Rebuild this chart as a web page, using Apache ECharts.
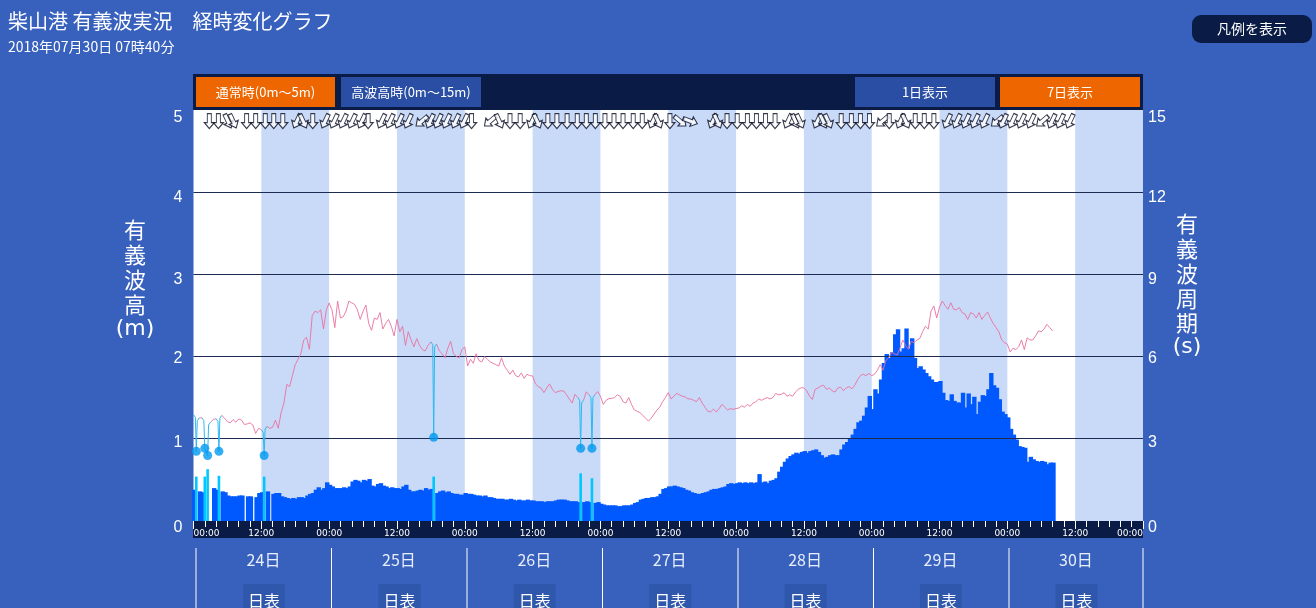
<!DOCTYPE html>
<html><head><meta charset="utf-8">
<style>html,body{margin:0;padding:0;background:#3761bd;overflow:hidden}#c{width:1316px;height:608px}</style>
<script src="https://cdn.jsdelivr.net/npm/echarts@6/dist/echarts.min.js"></script>
</head><body><div id="c"></div>
<script>
const sampleStepHours = 0.5;
const waveHeight = [
0.38,null,0.36,0.35,null,null,null,0.40,0.38,null,0.36,0.35,
0.31,0.30,0.30,0.30,0.31,0.31,null,0.30,0.30,null,0.29,0.34,
0.35,null,0.36,null,0.33,0.34,0.34,0.30,0.29,0.28,0.27,0.28,
0.27,0.29,0.29,0.28,0.31,0.33,0.34,0.38,0.41,0.38,0.40,0.47,
0.44,0.42,0.40,0.40,0.40,0.41,0.40,0.42,0.48,0.50,0.49,0.47,
0.50,0.49,0.51,0.43,0.42,0.45,0.46,0.43,0.42,0.40,0.41,0.40,
0.40,0.39,0.42,0.44,0.38,0.36,0.36,0.37,0.38,0.37,0.40,0.38,
0.39,null,0.34,0.36,0.37,0.35,0.36,0.34,0.33,0.33,0.32,0.32,
0.34,0.33,0.33,0.32,0.31,0.31,0.30,0.31,0.29,0.29,0.28,0.27,
0.27,0.27,0.26,0.26,0.27,0.26,0.25,0.26,0.25,0.25,0.26,0.25,
0.25,0.24,0.24,0.24,0.23,0.24,0.24,0.24,0.25,0.26,0.26,0.26,
0.25,0.24,0.24,0.24,0.23,null,0.23,0.24,0.23,null,0.22,0.23,
0.21,0.20,0.19,0.19,0.19,0.19,0.18,0.18,0.19,0.19,0.19,0.20,
0.22,0.23,0.26,0.27,0.28,0.28,0.29,0.29,0.30,0.33,0.39,0.40,
0.42,0.42,0.43,0.42,0.41,0.40,0.38,0.37,0.35,0.34,0.33,0.33,
0.34,0.35,0.36,0.38,0.39,0.39,0.40,0.41,0.42,0.45,0.46,0.45,
0.46,0.47,0.46,0.47,0.46,0.47,0.46,0.47,0.57,0.47,0.48,0.46,
0.49,0.50,0.52,0.60,0.66,0.72,0.76,0.79,0.81,0.83,0.82,0.84,
0.85,0.83,0.85,0.86,0.87,0.84,0.80,0.77,0.78,0.80,0.81,0.80,
0.80,0.87,0.93,0.96,1.00,1.05,1.12,1.20,1.22,1.28,1.38,1.52,
1.36,1.60,1.55,1.72,1.92,2.03,1.98,2.05,2.27,2.33,2.06,2.10,
2.34,2.10,2.22,1.98,1.86,1.88,1.84,1.80,1.76,1.72,1.69,1.69,
1.70,1.56,1.47,1.46,1.54,1.46,1.44,1.44,1.56,1.38,1.55,1.42,
1.51,1.30,1.45,1.53,1.52,1.60,1.80,1.65,1.62,1.48,1.33,1.30,
1.26,1.12,1.05,0.99,0.91,0.90,0.89,0.72,0.78,0.75,0.73,0.72,0.73,0.72,0.69,0.71,0.71
];
const wavePeriod = [
3.88,null,3.76,3.76,null,null,3.60,3.70,3.73,null,3.85,3.75,
3.62,3.58,3.70,3.60,3.72,3.68,3.52,3.54,3.58,3.50,3.19,3.38,
3.33,null,3.45,3.38,3.42,3.68,3.38,3.95,4.30,4.98,4.90,5.30,
5.70,5.90,6.10,6.60,6.70,6.26,7.48,7.65,7.60,7.70,7.00,7.70,
7.95,7.70,7.05,8.02,7.40,7.45,7.66,8.02,7.95,7.90,7.70,7.35,
7.65,7.87,7.20,6.95,7.40,7.35,7.60,7.00,7.20,7.35,7.10,6.75,
7.35,6.90,7.10,6.40,6.90,6.60,6.35,6.65,6.40,6.25,6.20,6.40,
6.53,null,6.45,6.20,6.10,5.95,6.30,6.55,6.10,6.00,5.95,6.25,
6.35,5.65,5.90,5.75,6.10,5.85,5.80,6.00,5.90,5.80,5.75,5.70,
5.65,5.95,5.65,5.50,5.35,5.50,5.30,5.25,5.40,5.20,5.35,5.30,
5.29,5.00,4.90,4.85,4.68,4.85,5.00,4.80,4.68,4.72,4.75,4.74,
4.60,4.45,4.30,4.62,4.50,null,4.40,4.71,4.60,null,4.60,4.72,
4.55,4.25,4.40,4.46,4.47,4.50,4.60,4.55,4.35,4.30,4.50,4.25,
4.05,4.00,3.95,3.85,3.75,3.64,3.75,3.90,4.05,4.15,4.35,4.50,
4.68,4.45,4.55,4.65,4.60,4.55,4.52,4.45,4.45,4.40,4.35,4.50,
4.30,4.15,4.00,3.98,4.08,3.98,4.10,4.25,4.15,4.05,4.10,4.07,
4.10,4.12,4.20,4.15,4.25,4.18,4.30,4.35,4.45,4.40,4.45,4.50,
4.45,4.50,4.65,4.60,4.62,4.68,4.55,4.60,4.55,4.70,4.80,4.86,
4.85,4.75,4.55,4.43,4.80,4.85,4.92,4.95,4.80,4.85,4.75,4.70,
4.85,4.88,4.75,4.85,4.90,4.82,4.95,5.15,5.30,5.35,5.30,5.38,
5.30,5.35,5.50,5.70,5.50,5.85,5.95,6.15,6.10,6.05,6.30,6.60,
6.40,6.26,6.55,6.50,6.60,6.65,6.90,7.10,7.00,7.66,7.84,7.40,
7.80,8.02,7.85,7.72,7.96,7.72,7.70,7.78,7.60,7.55,7.35,7.60,
7.55,7.40,7.60,7.35,7.50,7.62,7.40,7.20,7.05,6.90,6.60,6.50,
6.45,6.16,6.30,6.25,6.35,6.60,6.25,6.68,6.60,6.60,6.75,6.93,6.90,7.00,7.17,7.05,6.93
];
const flagHours  = [0.5,2,2.5,4.5,12.5,42.5,68.5,70.5];
const flagHeight = [0.54,0.54,0.63,0.55,0.54,0.54,0.58,0.52];
const flagPeriod = [2.54,2.65,2.39,2.54,2.39,3.05,2.65,2.65];
const arrowHours = [2.8,4.4,6.1,7.0,9.4,11.0,12.7,14.2,15.8,18.3,19.4,21.1,23.3,24.9,26.5,28.1,29.8,30.9,33.3,34.8,36.4,38.0,40.4,41.9,43.3,44.8,46.4,47.9,49.2,52.5,54.1,56.0,57.8,59.9,60.8,62.7,64.3,66.1,67.9,69.5,71.1,72.8,74.4,76.0,77.8,79.4,81.3,82.2,84.3,86.1,87.9,91.9,92.7,94.4,96.2,98.0,99.6,101.2,102.9,105.2,106.5,107.3,110.4,111.4,112.3,114.6,116.4,118.0,119.6,121.9,123.1,125.1,126.0,127.7,129.3,131.0,133.4,135.1,136.7,138.3,140.0,142.2,143.3,144.9,146.5,148.2,150.2,151.9,153.4,155.1];
const arrowDeg = [0,0,25,25,0,0,0,0,0,-25,25,0,-25,-25,-25,-25,-25,0,-25,-25,-25,-25,-50,-25,-25,-25,-25,-25,0,-50,25,0,0,-25,25,0,0,0,0,0,0,0,0,0,0,0,-25,25,0,50,70,-25,25,0,0,0,0,0,0,-25,25,25,-25,25,25,0,0,0,0,-50,0,-25,25,0,0,0,-25,-25,-25,-25,-25,-50,-25,-25,-25,-25,-50,-25,-25,-25];
const bandStartHours = [12,36,60,84,108,132,156];
const gridLevels = [1,2,3,4];
const dayLabels = ['24日','25日','26日','27日','28日','29日','30日'];
const arrowLevel = 4.86;
const leftTickNudge = {0:14,1:8,2:4,3:10,4:12,5:16};
const rightTickNudge = {0:14,3:8,6:4,9:10,12:12,15:16};

const hours = i => i * sampleStepHours;
const hsData = waveHeight.map((v,i)=>[hours(i),v]);
const perData = wavePeriod.map((v,i)=>[hours(i),v]);
const flagBars = flagHours.map((h,i)=>[h,flagHeight[i]]);
const flagDots = flagHours.map((h,i)=>[h,flagPeriod[i]]);
const flagLine = [];
flagHours.forEach((h,i)=>{
  const idx = Math.round(h/sampleStepHours);
  const prev = wavePeriod[idx-1], next = wavePeriod[idx+1];
  if (prev!=null){ flagLine.push([h-sampleStepHours,prev]); flagLine.push([h-0.17,prev-0.1]); }
  flagLine.push([h,flagPeriod[i]]);
  if (next!=null){ flagLine.push([h+0.17,next-0.1]); flagLine.push([h+sampleStepHours,next]); flagLine.push([h+sampleStepHours,null]); }
});
const arrowData = arrowHours.map((h,i)=>({value:[h,arrowLevel],symbolRotate:arrowDeg[i]}));

const FONT = '"Noto Sans CJK JP","Noto Sans",sans-serif';
const BG='#3761bd', NAVY='#0a1c45', ORANGE='#ee6600', BTN='#2a4ea3';
const g = [];
const txt=(x,y,t,fs,o={},font=FONT)=>g.push({type:'text',x,y,z:5,style:Object.assign({text:t,fill:'#fff',font:fs+'px '+font,textVerticalAlign:'middle',textAlign:'left'},o)});
const btn=(x,w,color,t)=>{g.push({type:'rect',z:4,shape:{x,y:77,width:w,height:30},style:{fill:color}});
  txt(x+w/2,92,t,13,{textAlign:'center'});};
g.push({type:'rect',z:3,shape:{x:193,y:74,width:950,height:36},style:{fill:NAVY}});
btn(196,139,ORANGE,'通常時(0m〜5m)');
btn(341,140,BTN,'高波高時(0m〜15m)');
btn(855,140,BTN,'1日表示');
btn(1000,140,ORANGE,'7日表示');
txt(8,21,'柴山港 有義波実況　経時変化グラフ',20);
txt(8,47,'2018年07月30日 07時40分',14);
g.push({type:'rect',z:4,shape:{x:1192,y:15,width:120,height:28,r:9},style:{fill:NAVY}});
txt(1252,29,'凡例を表示',14,{textAlign:'center'});
txt(135,267.5,'有\n義\n波\n高',22,{textAlign:'center',lineHeight:25});
txt(135,329,'(m)',22,{textAlign:'center'},'"DejaVu Sans"');
txt(1187,273.5,'有\n義\n波\n周\n期',22,{textAlign:'center',lineHeight:24.75});
txt(1187,347,'(s)',22,{textAlign:'center'},'"DejaVu Sans"');
g.push({type:'rect',z:-1,shape:{x:193,y:521,width:950,height:17},style:{fill:NAVY}});
dayLabels.forEach((d,i)=>{
  const cx=263.5+135.4*i, sx=196+135.5*i;
  g.push({type:'line',z:4,shape:{x1:sx,y1:548,x2:sx,y2:608},style:{stroke:'#fff',lineWidth:1}});
  txt(cx,560,d,16,{textAlign:'center',fill:'#e8eefc'});
  g.push({type:'rect',z:4,shape:{x:cx-20.5,y:584,width:42,height:30},style:{fill:'#2f57ab'}});
  txt(cx+0.5,601,'日表',16,{textAlign:'center'});
});
g.push({type:'line',z:4,shape:{x1:1143,y1:548,x2:1143,y2:608},style:{stroke:'#fff',lineWidth:1}});

const richFrom = nudge => Object.fromEntries(Object.entries(nudge).map(([k,p])=>['t'+k,{color:'#fff',fontSize:16,fontFamily:'"Liberation Sans",sans-serif',padding:[p,0,0,0]}]));

const chart = echarts.init(document.getElementById('c'),null,{renderer:'canvas'});
chart.setOption({
  animation:false,
  backgroundColor:BG,
  textStyle:{fontFamily:FONT},
  grid:{left:193.5,right:173,top:109.6,bottom:87,backgroundColor:'#fff',show:true,borderWidth:0},
  xAxis:{type:'value',min:0,max:168,interval:12,
    axisLine:{show:false},splitLine:{show:false},
    axisTick:{show:true,length:8,lineStyle:{color:'#fff',width:1}},
    minorTick:{show:true,splitNumber:6,length:6,lineStyle:{color:'#fff',width:1}},
    axisLabel:{color:'#fff',fontSize:9,fontFamily:'"DejaVu Sans",sans-serif',margin:8,alignMinLabel:'left',alignMaxLabel:'right',showMinLabel:true,showMaxLabel:true,
      formatter:v=>(v%24===0?'00:00':'12:00')}},
  yAxis:[
    {type:'value',min:0,max:5,interval:1,splitLine:{show:false},axisLine:{show:false},axisTick:{show:false},
      axisLabel:{margin:11,formatter:v=>`{t${v}|${v}}`,rich:richFrom(leftTickNudge)}},
    {type:'value',min:0,max:15,interval:3,position:'right',splitLine:{show:false},axisLine:{show:false},axisTick:{show:false},
      axisLabel:{margin:5,formatter:v=>`{t${v}|${v}}`,rich:richFrom(rightTickNudge)}}
  ],
  graphic:{elements:g},
  series:[
    {type:'line',name:'bands',data:[],z:1,silent:true,
      markArea:{silent:true,itemStyle:{color:'#c9daf8'},
        data:bandStartHours.map(h=>[{xAxis:h},{xAxis:h+12}])}},
    {type:'bar',name:'有義波高',data:hsData,barWidth:4.4,barGap:'-100%',z:2,itemStyle:{color:'#0059ff'},silent:true},
    {type:'bar',name:'欠測',data:flagBars,barWidth:2.6,barGap:'-100%',z:3,itemStyle:{color:'#00c8ff'},silent:true},
    {type:'line',name:'grid',data:[],z:4,silent:true,
      markLine:{silent:true,symbol:'none',label:{show:false},lineStyle:{color:'#1c2b52',width:1,type:'solid'},
        data:gridLevels.map(v=>({yAxis:v}))}},
    {type:'line',name:'有義波周期',yAxisIndex:1,data:perData,z:5,symbol:'none',connectNulls:false,
      lineStyle:{color:'#e9719f',width:0.9},silent:true},
    {type:'line',name:'欠測周期',yAxisIndex:1,data:flagLine,z:6,symbol:'none',connectNulls:false,
      lineStyle:{color:'#2db8f0',width:1},silent:true},
    {type:'scatter',name:'欠測点',yAxisIndex:1,data:flagDots,z:7,symbol:'circle',symbolSize:9,
      itemStyle:{color:'#0099f0'},silent:true},
    {type:'scatter',name:'波向',data:arrowData,z:8,symbol:'path://M3,0 L7,0 L7,9 L10,9 L5,15 L0,9 L3,9 Z',symbolSize:[10,15],
      itemStyle:{color:'#fff',borderColor:'#050a20',borderWidth:1.1},silent:true}
  ]
});
</script></body></html>
